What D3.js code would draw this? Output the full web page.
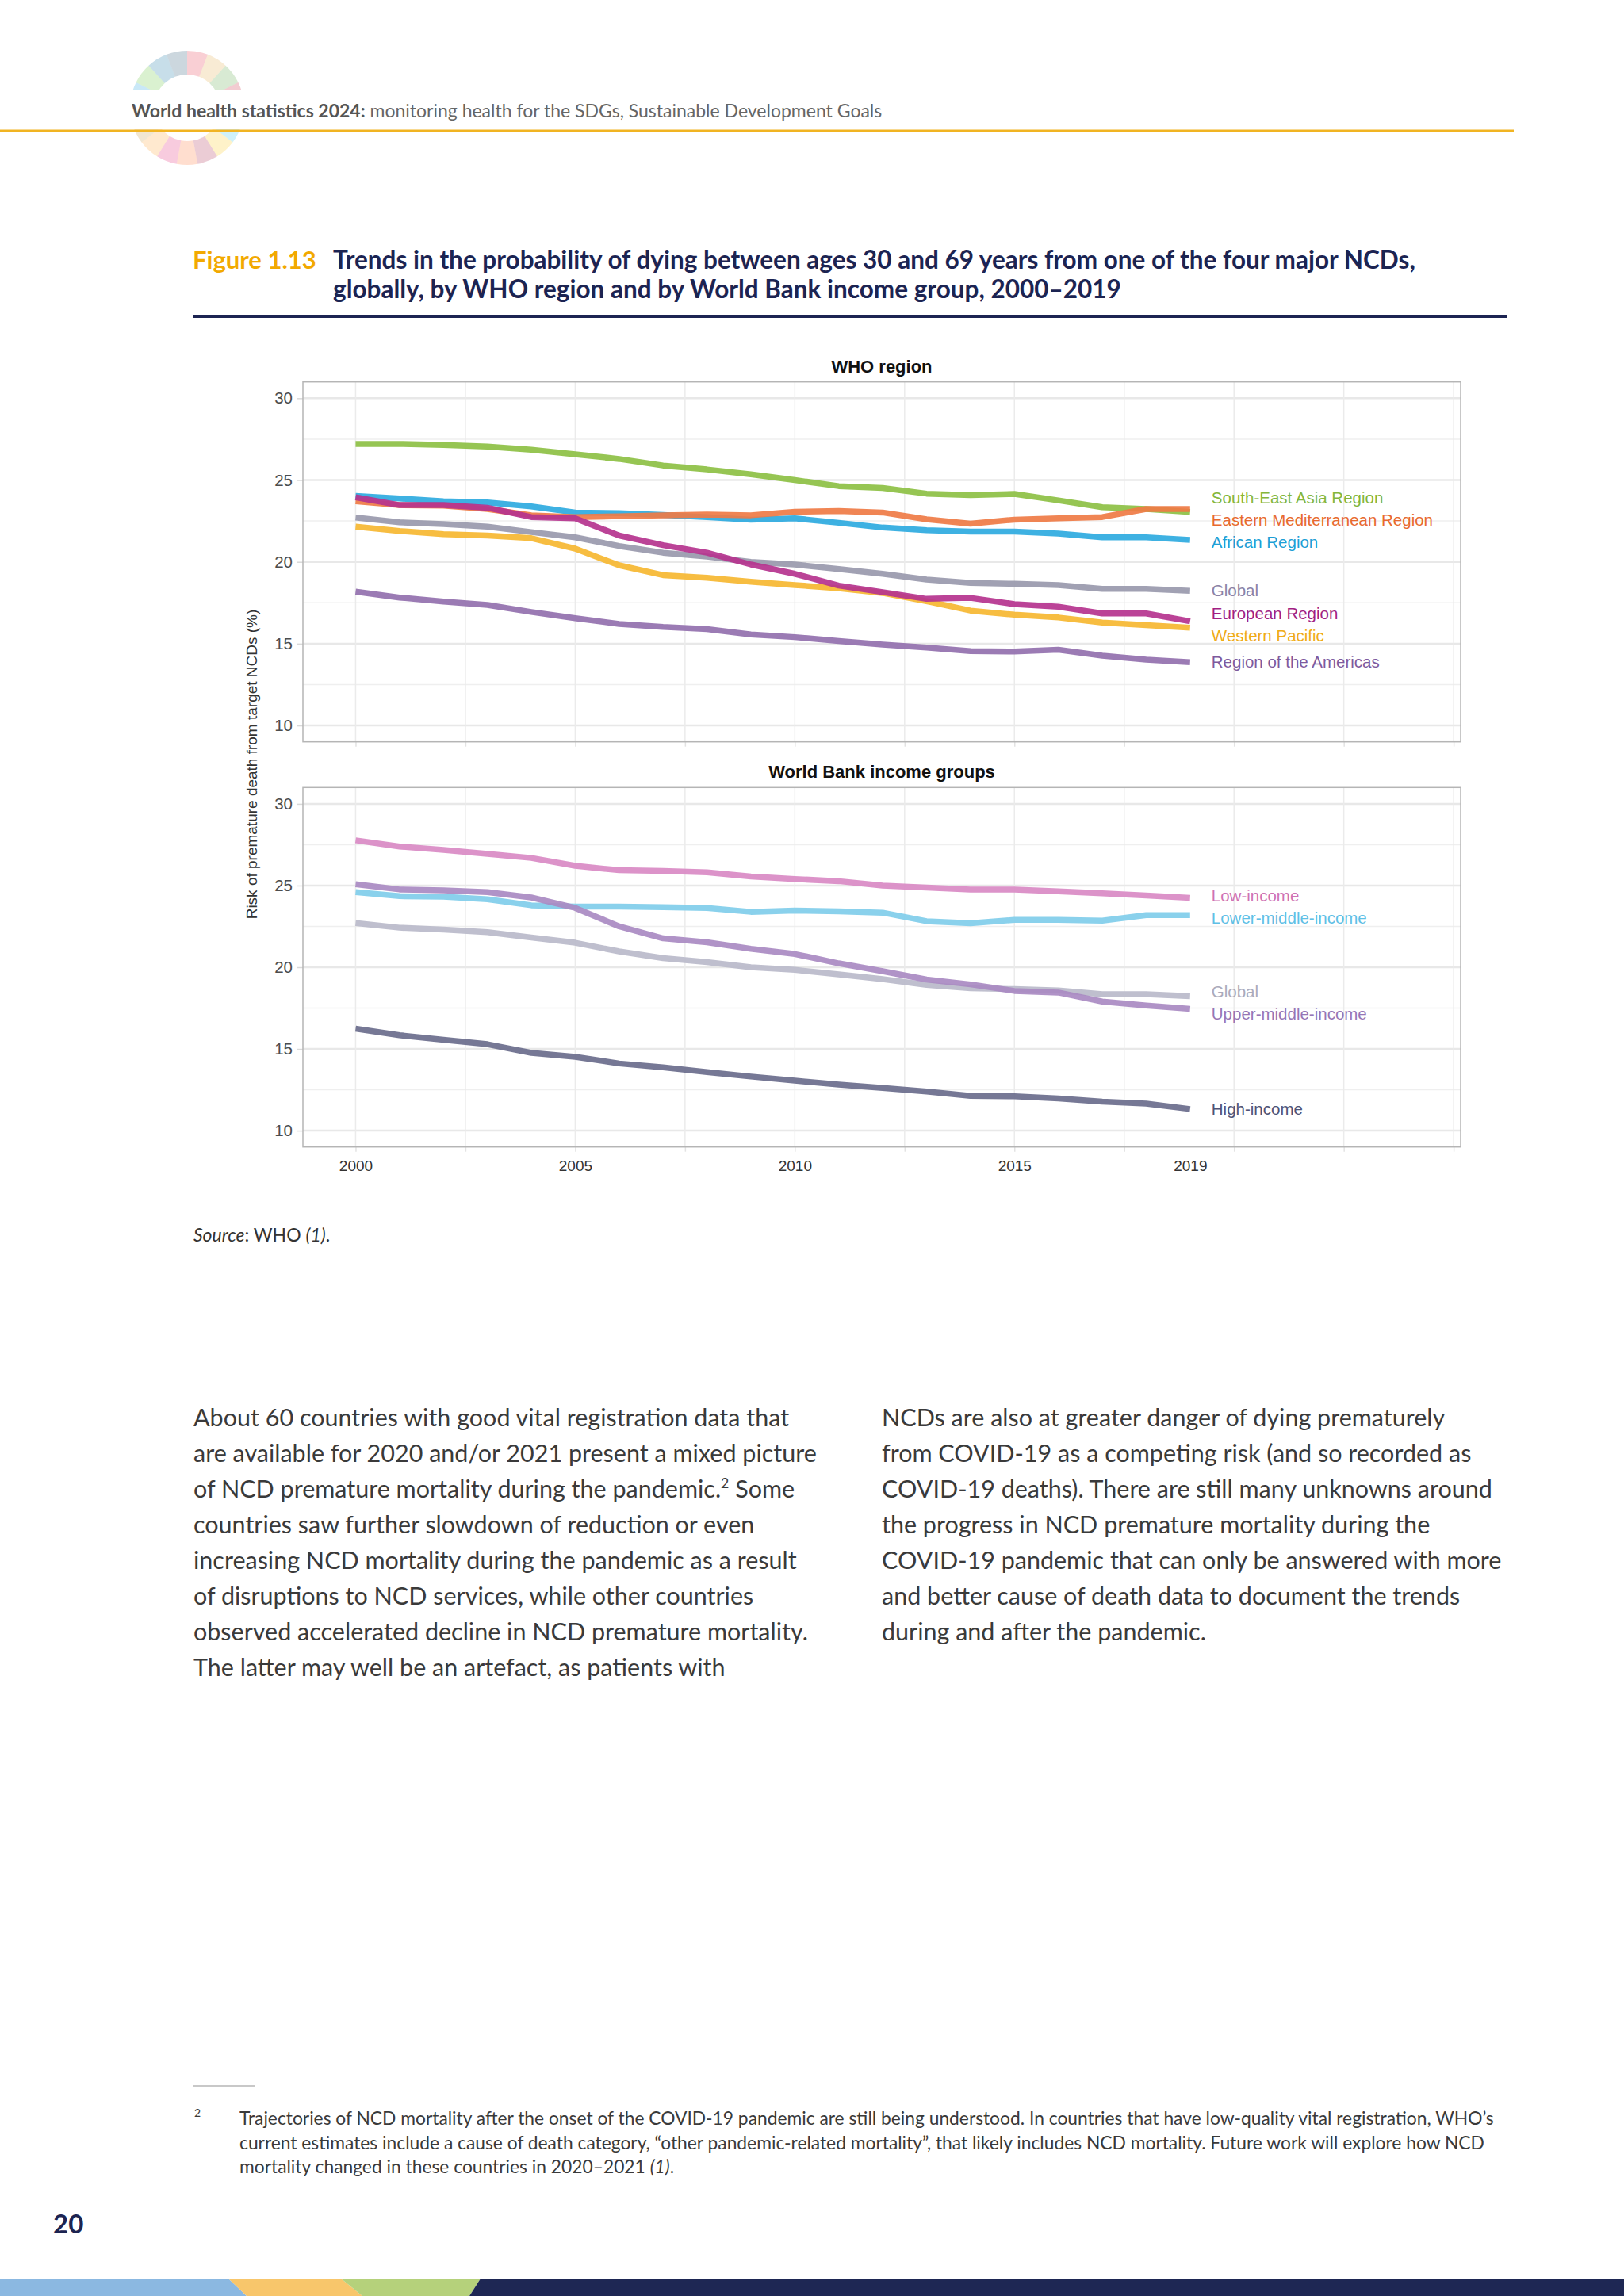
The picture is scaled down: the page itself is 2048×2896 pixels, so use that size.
<!DOCTYPE html>
<html>
<head>
<meta charset="utf-8">
<script src="https://cdn.jsdelivr.net/npm/d3@7"></script>
<style>
  body { margin: 0; background: #fff; }
  svg { display: block; }
</style>
</head>
<body>
<svg width="2048" height="2896"></svg>
<script>
'use strict';

// ---- data ----
var years = [2000, 2001, 2002, 2003, 2004, 2005, 2006, 2007, 2008, 2009,
             2010, 2011, 2012, 2013, 2014, 2015, 2016, 2017, 2018, 2019];

var seaRegion = [27.21, 27.21, 27.15, 27.05, 26.85, 26.58, 26.29, 25.89, 25.65, 25.35,
                 25.0, 24.63, 24.52, 24.17, 24.08, 24.15, 23.76, 23.34, 23.23, 23.05];
var emrRegion = [23.7, 23.47, 23.44, 23.23, 22.85, 22.74, 22.79, 22.85, 22.89, 22.85,
                 23.06, 23.11, 23.02, 22.6, 22.34, 22.58, 22.66, 22.74, 23.23, 23.23];
var afrRegion = [24.03, 23.87, 23.71, 23.63, 23.39, 23.02, 22.98, 22.87, 22.74, 22.58,
                 22.66, 22.39, 22.1, 21.94, 21.85, 21.85, 21.73, 21.5, 21.5, 21.34];
var globalRate = [22.71, 22.42, 22.31, 22.15, 21.82, 21.5, 20.97, 20.56, 20.32, 20.0,
                  19.84, 19.56, 19.27, 18.92, 18.71, 18.66, 18.58, 18.35, 18.35, 18.23];
var eurRegion = [23.95, 23.47, 23.47, 23.31, 22.74, 22.66, 21.61, 21.02, 20.56, 19.84,
                 19.27, 18.55, 18.15, 17.74, 17.8, 17.42, 17.26, 16.85, 16.85, 16.37];
var wprRegion = [22.15, 21.89, 21.69, 21.61, 21.45, 20.81, 19.79, 19.19, 19.03, 18.79,
                 18.58, 18.39, 18.1, 17.6, 17.02, 16.77, 16.6, 16.29, 16.13, 15.97];
var amrRegion = [18.18, 17.82, 17.58, 17.37, 16.94, 16.56, 16.21, 16.02, 15.89, 15.56,
                 15.4, 15.16, 14.95, 14.76, 14.55, 14.52, 14.63, 14.27, 14.03, 13.87];

var lowIncome = [27.77, 27.39, 27.18, 26.94, 26.69, 26.21, 25.94, 25.89, 25.81, 25.56,
                 25.4, 25.27, 25.0, 24.88, 24.76, 24.76, 24.65, 24.52, 24.39, 24.24];
var lowerMiddleIncome = [24.6, 24.35, 24.32, 24.16, 23.79, 23.71, 23.71, 23.68, 23.63, 23.39,
                         23.47, 23.42, 23.34, 22.82, 22.69, 22.9, 22.9, 22.85, 23.19, 23.19];
var upperMiddleIncome = [25.08, 24.76, 24.71, 24.6, 24.27, 23.63, 22.5, 21.77, 21.53, 21.13,
                         20.81, 20.24, 19.76, 19.25, 18.95, 18.55, 18.45, 17.9, 17.66, 17.45];
var highIncome = [16.24, 15.84, 15.56, 15.29, 14.76, 14.52, 14.11, 13.87, 13.58, 13.31,
                  13.06, 12.82, 12.61, 12.39, 12.13, 12.1, 11.97, 11.77, 11.65, 11.32];

// label order top to bottom
var regionNames = ['South-East Asia Region', 'Eastern Mediterranean Region', 'African Region',
                   'Global', 'European Region', 'Western Pacific', 'Region of the Americas'];
var regionValues = [seaRegion, emrRegion, afrRegion, globalRate, eurRegion, wprRegion, amrRegion];
var incomeNames = ['Low-income', 'Lower-middle-income', 'Global', 'Upper-middle-income', 'High-income'];
var incomeValues = [lowIncome, lowerMiddleIncome, globalRate, upperMiddleIncome, highIncome];

var xTickLabels = [2000, 2005, 2010, 2015, 2019];
var yTicks = [10, 15, 20, 25, 30];

// ---- styles ----
var regionLine = ['#8dc044', '#ef7b45', '#2eaadf', '#9999ad', '#b5338e', '#f6b731', '#9270ae'];
var regionText = ['#84b63a', '#e8692e', '#1d9fd6', '#8a82a6', '#a21f83', '#f0ab17', '#7e5a9e'];
var regionDrawOrder = [3, 6, 5, 2, 0, 1, 4];
var incomeLine = ['#d98ac4', '#80cdea', '#babaca', '#a98ac2', '#6a6c8c'];
var incomeText = ['#cf72b4', '#5fc0e6', '#aaaabb', '#9676b6', '#4e5377'];
var incomeDrawOrder = [2, 1, 0, 3, 4];

var bodyFont = 'Lato, "Open Sans", sans-serif';
var chartFont = '"Liberation Sans", Arial, sans-serif';

var svg = d3.select('svg');

// ---- page header ----
var sdgColors = ['#e5243b', '#dda63a', '#4c9f38', '#c5192d', '#ff3a21', '#26bde2', '#fcc30b',
                 '#a21942', '#fd6925', '#dd1367', '#fd9d24', '#bf8b2e', '#3f7e44', '#0a97d9',
                 '#56c02b', '#00689d', '#19486a'];
var logo = svg.append('g').attr('transform', 'translate(236,136)');
logo.selectAll('path')
    .data(d3.pie().sort(null).value(1)(sdgColors))
    .enter().append('path')
    .attr('d', d3.arc().innerRadius(42).outerRadius(72))
    .attr('fill', function(d) { return d.data; })
    .attr('opacity', 0.22);
svg.append('rect').attr('x', 150).attr('y', 113).attr('width', 180).attr('height', 50).attr('fill', '#fff');

svg.append('line')
    .attr('x1', 0).attr('x2', 1909).attr('y1', 165).attr('y2', 165)
    .attr('stroke', '#f1b422').attr('stroke-width', 3);

var header = svg.append('text')
    .attr('x', 166).attr('y', 148)
    .style('font-family', bodyFont).style('font-size', '23px');
header.append('tspan').attr('font-weight', 700).attr('fill', '#555').text('World health statistics 2024:');
header.append('tspan').attr('fill', '#666').text(' monitoring health for the SDGs, Sustainable Development Goals');

// ---- figure title ----
svg.append('text')
    .attr('x', 243).attr('y', 339)
    .style('font-family', bodyFont).style('font-size', '31px').style('font-weight', 700)
    .attr('fill', '#f2a900')
    .text('Figure 1.13');
svg.append('text')
    .attr('x', 420).attr('y', 339)
    .style('font-family', bodyFont).style('font-size', '31.5px').style('font-weight', 700)
    .attr('fill', '#1c2452')
    .selectAll('tspan')
    .data(['Trends in the probability of dying between ages 30 and 69 years from one of the four major NCDs,',
           'globally, by WHO region and by World Bank income group, 2000\u20132019'])
    .enter().append('tspan')
    .attr('x', 420)
    .attr('dy', function(d, i) { return i ? 37 : 0; })
    .text(function(d) { return d; });
svg.append('line')
    .attr('x1', 243).attr('x2', 1901).attr('y1', 399).attr('y2', 399)
    .attr('stroke', '#1c2452').attr('stroke-width', 4);

// ---- chart panels ----
var x = d3.scaleLinear().domain([1998.8, 2025.16]).range([382, 1842]);
var gridYears = d3.range(2000, 2025.1, 2.5);

function repel(targets, gap) {
    // keep the given order, merge overlapping labels into clusters centred on their targets
    var clusters = targets.map(function(t) { return {sum: t, n: 1, top: t}; });
    var changed = true;
    while (changed) {
        changed = false;
        for (var i = 0; i < clusters.length - 1; i++) {
            var a = clusters[i], b = clusters[i + 1];
            if (a.top + a.n * gap > b.top) {
                var m = {sum: a.sum + b.sum, n: a.n + b.n};
                m.top = (m.sum - gap * (m.n * (m.n - 1) / 2)) / m.n;
                clusters.splice(i, 2, m);
                changed = true;
                break;
            }
        }
    }
    var out = [];
    clusters.forEach(function(c) {
        for (var k = 0; k < c.n; k++) { out.push(c.top + k * gap); }
    });
    return out;
}

function drawPanel(top, bottom, title, names, values, lineColors, textColors, drawOrder, showX) {
    var y = d3.scaleLinear().domain([9, 31]).range([bottom, top]);
    var g = svg.append('g');

    g.append('rect')
        .attr('x', x.range()[0]).attr('y', top)
        .attr('width', x.range()[1] - x.range()[0]).attr('height', bottom - top)
        .attr('fill', '#fff');

    // grid
    g.selectAll('.minor-y')
        .data([12.5, 17.5, 22.5, 27.5])
        .enter().append('line')
        .attr('x1', x.range()[0]).attr('x2', x.range()[1])
        .attr('y1', y).attr('y2', y)
        .attr('stroke', '#efefef').attr('stroke-width', 1.5);
    g.selectAll('.major-y')
        .data(yTicks)
        .enter().append('line')
        .attr('x1', x.range()[0]).attr('x2', x.range()[1])
        .attr('y1', y).attr('y2', y)
        .attr('stroke', '#e8e8e8').attr('stroke-width', 2.5);
    g.selectAll('.grid-x')
        .data(gridYears)
        .enter().append('line')
        .attr('x1', x).attr('x2', x)
        .attr('y1', top).attr('y2', bottom)
        .attr('stroke', '#ebebeb').attr('stroke-width', 1.5);

    // y axis
    var yAxis = g.append('g')
        .attr('transform', 'translate(' + x.range()[0] + ',0)')
        .call(d3.axisLeft(y).tickValues(yTicks).tickSize(7).tickPadding(6));
    yAxis.select('.domain').remove();
    yAxis.selectAll('line').attr('stroke', '#d9d9d9').attr('stroke-width', 1.5);
    yAxis.selectAll('text')
        .style('font-family', chartFont).style('font-size', '20.5px').attr('fill', '#4d4d4d');

    // x ticks
    var xAxis = g.append('g')
        .attr('transform', 'translate(0,' + bottom + ')')
        .call(d3.axisBottom(x).tickValues(gridYears).tickSize(6).tickFormat(''));
    xAxis.select('.domain').remove();
    xAxis.selectAll('line').attr('stroke', '#e3e3e3').attr('stroke-width', 1.5);
    if (showX) {
        var xl = g.append('g')
            .attr('transform', 'translate(0,' + bottom + ')')
            .call(d3.axisBottom(x).tickValues(xTickLabels).tickSize(0).tickPadding(17).tickFormat(d3.format('d')));
        xl.select('.domain').remove();
        xl.selectAll('text')
            .style('font-family', chartFont).style('font-size', '19px').attr('fill', '#333');
    }

    // border
    g.append('rect')
        .attr('x', x.range()[0]).attr('y', top)
        .attr('width', x.range()[1] - x.range()[0]).attr('height', bottom - top)
        .attr('fill', 'none').attr('stroke', '#b5b5b5').attr('stroke-width', 1.5);

    // title
    g.append('text')
        .attr('x', (x.range()[0] + x.range()[1]) / 2).attr('y', top - 12)
        .attr('text-anchor', 'middle')
        .style('font-family', chartFont).style('font-size', '22px').style('font-weight', 700)
        .attr('fill', '#111')
        .text(title);

    // lines
    var line = d3.line()
        .x(function(d, i) { return x(years[i]); })
        .y(function(d) { return y(d); });
    drawOrder.forEach(function(k) {
        g.append('path')
            .attr('d', line(values[k]))
            .attr('fill', 'none')
            .attr('stroke', lineColors[k])
            .attr('stroke-opacity', 0.92)
            .attr('stroke-width', 7.5)
            .attr('stroke-linejoin', 'round');
    });

    // direct labels
    var targets = values.map(function(v) { return y(v[v.length - 1]); });
    var labelY = repel(targets, 28);
    g.selectAll('.series-label')
        .data(names)
        .enter().append('text')
        .attr('x', x(2019) + 27)
        .attr('y', function(d, i) { return labelY[i]; })
        .attr('dy', '0.35em')
        .style('font-family', chartFont).style('font-size', '20.5px')
        .attr('fill', function(d, i) { return textColors[i]; })
        .text(function(d) { return d; });
}

drawPanel(481.7, 935.7, 'WHO region', regionNames, regionValues,
          regionLine, regionText, regionDrawOrder, false);
drawPanel(993.3, 1446.7, 'World Bank income groups', incomeNames, incomeValues,
          incomeLine, incomeText, incomeDrawOrder, true);

svg.append('text')
    .attr('transform', 'translate(324,964) rotate(-90)')
    .attr('text-anchor', 'middle')
    .style('font-family', chartFont).style('font-size', '19px')
    .attr('fill', '#333')
    .text('Risk of premature death from target NCDs (%)');

// ---- source ----
var source = svg.append('text')
    .attr('x', 244).attr('y', 1566)
    .style('font-family', bodyFont).style('font-size', '23px').attr('fill', '#333');
source.append('tspan').style('font-style', 'italic').text('Source');
source.append('tspan').text(': WHO ');
source.append('tspan').style('font-style', 'italic').text('(1)');
source.append('tspan').text('.');

// ---- body text ----
var leftLines = [
    'About 60 countries with good vital registration data that',
    'are available for 2020 and/or 2021 present a mixed picture',
    'of NCD premature mortality during the pandemic.|2| Some',
    'countries saw further slowdown of reduction or even',
    'increasing NCD mortality during the pandemic as a result',
    'of disruptions to NCD services, while other countries',
    'observed accelerated decline in NCD premature mortality.',
    'The latter may well be an artefact, as patients with'
];
var rightLines = [
    'NCDs are also at greater danger of dying prematurely',
    'from COVID-19 as a competing risk (and so recorded as',
    'COVID-19 deaths). There are still many unknowns around',
    'the progress in NCD premature mortality during the',
    'COVID-19 pandemic that can only be answered with more',
    'and better cause of death data to document the trends',
    'during and after the pandemic.'
];

function paragraph(x0, y0, lines, size, lead, color) {
    var t = svg.append('text')
        .attr('x', x0).attr('y', y0)
        .style('font-family', bodyFont).style('font-size', size + 'px')
        .attr('fill', color);
    lines.forEach(function(l, i) {
        var parts = l.split('|');
        parts.forEach(function(p, j) {
            var ts = t.append('tspan').text(p);
            if (j === 0) { ts.attr('x', x0).attr('y', y0 + i * lead); }
            if (j % 2 === 1) {
                ts.style('font-size', (size * 0.58) + 'px').attr('dy', -size * 0.38);
            } else if (j > 0) {
                ts.attr('dy', size * 0.38);
            }
        });
    });
    return t;
}
paragraph(244, 1799, leftLines, 30.5, 45, '#3a3a3a');
paragraph(1112, 1799, rightLines, 30.5, 45, '#3a3a3a');

// ---- footnote ----
svg.append('line')
    .attr('x1', 244).attr('x2', 322).attr('y1', 2631).attr('y2', 2631)
    .attr('stroke', '#c8c8c8').attr('stroke-width', 2);
svg.append('text')
    .attr('x', 245).attr('y', 2670)
    .style('font-family', bodyFont).style('font-size', '14px').attr('fill', '#3a3a3a')
    .text('2');
var foot = svg.append('text')
    .style('font-family', bodyFont).style('font-size', '22.8px').attr('fill', '#3a3a3a');
foot.append('tspan').attr('x', 302).attr('y', 2680)
    .text('Trajectories of NCD mortality after the onset of the COVID-19 pandemic are still being understood. In countries that have low-quality vital registration, WHO\u2019s');
foot.append('tspan').attr('x', 302).attr('y', 2710.5)
    .text('current estimates include a cause of death category, \u201Cother pandemic-related mortality\u201D, that likely includes NCD mortality. Future work will explore how NCD');
foot.append('tspan').attr('x', 302).attr('y', 2741)
    .text('mortality changed in these countries in 2020\u20132021 ');
foot.append('tspan').style('font-style', 'italic').text('(1)');
foot.append('tspan').text('.');

// ---- page number and footer band ----
svg.append('text')
    .attr('x', 67).attr('y', 2817)
    .style('font-family', bodyFont).style('font-size', '33px').style('font-weight', 700)
    .attr('fill', '#1c2452')
    .text('20');

var band = [
    {c: '#8bb8e1', p: [[0, 2874], [288, 2874], [311, 2896], [0, 2896]]},
    {c: '#f8c66b', p: [[288, 2874], [430, 2874], [457, 2896], [311, 2896]]},
    {c: '#b5d17b', p: [[430, 2874], [606, 2874], [592, 2896], [457, 2896]]},
    {c: '#1e2754', p: [[606, 2874], [2048, 2874], [2048, 2896], [592, 2896]]}
];
svg.selectAll('.band')
    .data(band)
    .enter().append('polygon')
    .attr('points', function(d) { return d.p.join(' '); })
    .attr('fill', function(d) { return d.c; });
</script>
</body>
</html>
